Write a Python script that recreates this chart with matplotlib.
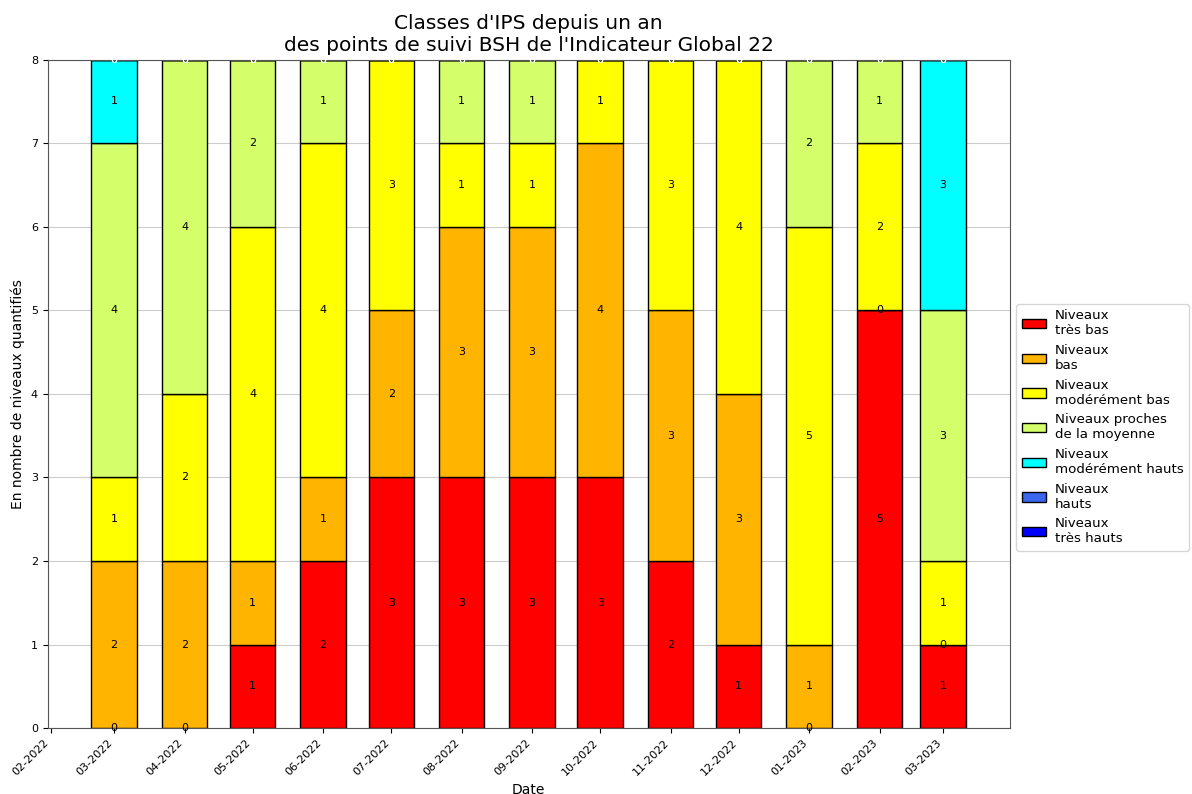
import datetime as dt
import matplotlib
matplotlib.use('Agg')
import matplotlib.pyplot as plt
import matplotlib.dates as mdates

# months (first day of each month)
months = ['2022-03', '2022-04', '2022-05', '2022-06', '2022-07', '2022-08', '2022-09',
          '2022-10', '2022-11', '2022-12', '2023-01', '2023-02', '2023-03']

# class counts, bottom to top (None = not present for that month)
tres_bas = [0, 0, 1, 2, 3, 3, 3, 3, 2, 1, 0, 5, 1]
bas = [2, 2, 1, 1, 2, 3, 3, 4, 3, 3, 1, 0, 0]
mod_bas = [1, 2, 4, 4, 3, 1, 1, 1, 3, 4, 5, 2, 1]
proches = [4, 4, 2, 1, None, 1, 1, None, None, None, 2, 1, 3]
mod_hauts = [1, None, None, None, None, None, None, None, None, None, None, None, 3]
hauts = [0] * 13
tres_hauts = [0] * 13

series = [tres_bas, bas, mod_bas, proches, mod_hauts, hauts, tres_hauts]
labels = ['Niveaux\ntrès bas', 'Niveaux\nbas', 'Niveaux\nmodérément bas',
          'Niveaux proches\nde la moyenne', 'Niveaux\nmodérément hauts',
          'Niveaux\nhauts', 'Niveaux\ntrès hauts']
colors = ['#ff0000', '#ffb400', '#ffff00', '#d4ff6a', '#00ffff', '#3a66f0', '#0000ff']
text_colors = ['black', 'black', 'black', 'black', 'black', 'white', 'white']

dates = [dt.datetime.strptime(m, '%Y-%m') for m in months]
x = mdates.date2num(dates)

fig = plt.figure(figsize=(11.92, 7.94), dpi=100)
ax = fig.add_axes([0.040, 0.083, 0.807, 0.842])
ax.set_axisbelow(True)
ax.grid(True, axis='y', color='#cccccc')

bottom = [0.0] * len(x)
for vals, lab, col, tcol in zip(series, labels, colors, text_colors):
    h = [v if v is not None else 0 for v in vals]
    ax.bar(x, h, width=20, bottom=bottom, color=col, edgecolor='black',
           linewidth=1, label=lab)
    for i, v in enumerate(vals):
        if v is not None:
            ax.text(x[i], bottom[i] + v / 2, str(v), ha='center', va='center',
                    fontsize=8, color=tcol)
    bottom = [b + hh for b, hh in zip(bottom, h)]

ax.set_ylim(0, 8)
ax.xaxis.set_major_locator(mdates.MonthLocator())
ax.xaxis.set_major_formatter(mdates.DateFormatter('%m-%Y'))
plt.setp(ax.get_xticklabels(), rotation=45, ha='right', fontsize=8)
plt.setp(ax.get_yticklabels(), fontsize=8)
for s in ax.spines.values():
    s.set_color('#555555')

ax.set_xlabel('Date', fontsize=10)
ax.set_ylabel('En nombre de niveaux quantifiés', fontsize=10)
ax.set_title("Classes d'IPS depuis un an\ndes points de suivi BSH de l'Indicateur Global 22",
             fontsize=14.5)
ax.legend(loc='center left', bbox_to_anchor=(1.0, 0.45), fontsize=9.6,
          labelspacing=0.5, handlelength=1.8, handletextpad=0.7)

fig.savefig('out.png', dpi=100)
